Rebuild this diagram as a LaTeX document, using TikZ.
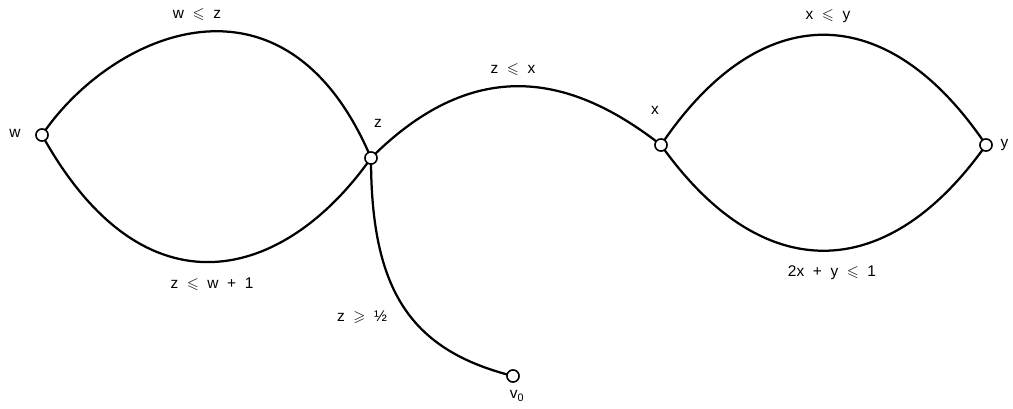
\documentclass[tikz,border=0pt]{standalone}
\usepackage{amsmath,amssymb}
\usepackage{fontspec}
\setmainfont{Liberation Sans}
\usepackage{tikz}

\begin{document}
\begin{tikzpicture}[
  x=0.025cm, y=-0.025cm,
  vtx/.style={circle, draw, fill=white, line width=1pt, inner sep=0pt, minimum size=0.3cm},
  arc/.style={line width=1.6pt},
  lbl/.style={font=\fontsize{11}{13}\selectfont, inner sep=1pt}
]
\useasboundingbox (0,0) rectangle (1013,408);
\node[vtx] (w)  at (42,135)  {};
\node[vtx] (z)  at (371,158) {};
\node[vtx] (x)  at (661,145) {};
\node[vtx] (y)  at (986,145) {};
\node[vtx] (v0) at (513,376) {};
\draw[arc] (w.center) .. controls (111,33) and (285,-45) .. (z.center);
\draw[arc] (w.center) .. controls (145,321) and (285,280) .. (z.center);
\draw[arc] (z.center) .. controls (477,52) and (574,77) .. (x.center);
\draw[arc] (x.center) .. controls (760,-2) and (887,-2) .. (y.center);
\draw[arc] (x.center) .. controls (761,286) and (886,286) .. (y.center);
\draw[arc] (z.center) .. controls (371,290) and (410,350) .. (v0.center);
% vertices on top of the arcs
\node[vtx] at (w) {};
\node[vtx] at (z) {};
\node[vtx] at (x) {};
\node[vtx] at (y) {};
\node[vtx] at (v0) {};
% labels
\node[lbl] (lw)  at (15,133)  {w};
\node[lbl] (lz)  at (378,123) {z};
\node[lbl] (lx)  at (655,110) {x};
\node[lbl, anchor=west] (ly) at (999,145) {y};
\node[lbl] (lv0) at (517,396) {v\textsubscript{0}};
\node[lbl] (wz)   at (197,15)  {w \ $\leqslant$ \ z};
\node[lbl] (zx)   at (513,70)  {z \ $\leqslant$ \ x};
\node[lbl] (xy)   at (828,16)  {x \ $\leqslant$ \ y};
\node[lbl] (zw1)  at (212,284) {z \ $\leqslant$ \ w \ + \ 1};
\node[lbl] (zh)   at (362,317) {z \ $\geqslant$ \ ½};
\node[lbl] (xy1)  at (832,273) {2x \ + \ y \ $\leqslant$ \ 1};
\end{tikzpicture}
\end{document}
